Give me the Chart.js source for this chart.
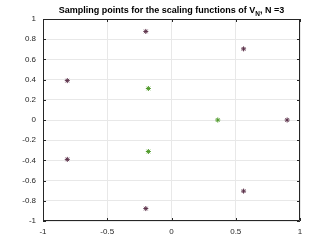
<!DOCTYPE html>
<html>
<head>
<meta charset="utf-8">
<script src="https://cdn.jsdelivr.net/npm/chart.js@4.4.1/dist/chart.umd.min.js"></script>
<style>
  html, body { margin: 0; padding: 0; background: #fff; }
  #wrap { width: 332px; height: 249px; }
</style>
</head>
<body>
<div id="wrap"><canvas id="chart" width="332" height="249"></canvas></div>
<script>
// sampling points
const outerX = [0.9, 0.561, -0.2, -0.811, -0.811, -0.2, 0.561];
const outerY = [0, 0.704, 0.877, 0.39, -0.39, -0.877, -0.704];
const innerX = [0.36, -0.18, -0.18];
const innerY = [0, 0.312, -0.312];

const xTicks = [-1, -0.5, 0, 0.5, 1];
const yTicks = [-1, -0.8, -0.6, -0.4, -0.2, 0, 0.2, 0.4, 0.6, 0.8, 1];

const titleMain = 'Sampling points for the scaling functions of V';
const titleSub = 'N';
const titleEnd = ', N =3';

const axisColor = '#262626';
const fontFamily = 'Liberation Sans, Arial, sans-serif';

function toPoints(xs, ys) {
  return xs.map((x, i) => ({ x: x, y: ys[i] }));
}

// MATLAB-like box with inward ticks and the title with a subscript
const boxPlugin = {
  id: 'box',
  afterDraw(chart) {
    const { ctx, chartArea: a, scales } = chart;
    ctx.save();
    ctx.strokeStyle = axisColor;
    ctx.lineWidth = 1;
    ctx.beginPath();
    ctx.rect(a.left + 0.5, a.top + 0.5, a.right - a.left - 1, a.bottom - a.top - 1);
    for (const v of xTicks) {
      const px = Math.round(scales.x.getPixelForValue(v)) + 0.5;
      ctx.moveTo(px, a.bottom); ctx.lineTo(px, a.bottom - 3);
      ctx.moveTo(px, a.top); ctx.lineTo(px, a.top + 3);
    }
    for (const v of yTicks) {
      const py = Math.round(scales.y.getPixelForValue(v)) + 0.5;
      ctx.moveTo(a.left, py); ctx.lineTo(a.left + 3, py);
      ctx.moveTo(a.right, py); ctx.lineTo(a.right - 3, py);
    }
    ctx.stroke();

    // title
    ctx.fillStyle = '#000';
    ctx.textBaseline = 'alphabetic';
    const big = 'bold 9px ' + fontFamily;
    const small = 'bold 6.5px ' + fontFamily;
    ctx.font = big;
    const w1 = ctx.measureText(titleMain).width;
    const w3 = ctx.measureText(titleEnd).width;
    ctx.font = small;
    const w2 = ctx.measureText(titleSub).width;
    const total = w1 + w2 + w3;
    let x = (a.left + a.right) / 2 - total / 2;
    const base = 13;
    ctx.textAlign = 'left';
    ctx.font = big;
    ctx.fillText(titleMain, x, base);
    x += w1;
    ctx.font = small;
    ctx.fillText(titleSub, x, base + 2.5);
    x += w2;
    ctx.font = big;
    ctx.fillText(titleEnd, x, base);
    ctx.restore();
  }
};

new Chart(document.getElementById('chart'), {
  type: 'scatter',
  data: {
    datasets: [
      {
        label: 'outer',
        data: toPoints(outerX, outerY),
        pointStyle: 'star',
        pointRadius: 2.5,
        borderWidth: 1,
        borderColor: '#5a2f48',
        backgroundColor: '#5a2f48'
      },
      {
        label: 'inner',
        data: toPoints(innerX, innerY),
        pointStyle: 'star',
        pointRadius: 2.5,
        borderWidth: 1,
        borderColor: '#4f9a2a',
        backgroundColor: '#4f9a2a'
      }
    ]
  },
  options: {
    responsive: false,
    animation: false,
    events: [],
    layout: { padding: { top: 19, right: 32, left: 0, bottom: 0 } },
    plugins: {
      legend: { display: false },
      tooltip: { enabled: false },
      title: { display: false }
    },
    scales: {
      x: {
        type: 'linear',
        min: -1,
        max: 1,
        afterFit(scale) { scale.height = 28; },
        afterBuildTicks(scale) { scale.ticks = xTicks.map(v => ({ value: v })); },
        grid: { color: '#e8e8e8', drawTicks: false },
        border: { display: false },
        ticks: {
          autoSkip: false,
          maxRotation: 0,
          padding: 6,
          color: axisColor,
          font: { family: fontFamily, size: 8 },
          callback: (v) => String(v)
        }
      },
      y: {
        type: 'linear',
        min: -1,
        max: 1,
        afterFit(scale) { scale.width = 43; },
        afterBuildTicks(scale) { scale.ticks = yTicks.map(v => ({ value: v })); },
        grid: { color: '#e8e8e8', drawTicks: false },
        border: { display: false },
        ticks: {
          autoSkip: false,
          padding: 7,
          color: axisColor,
          font: { family: fontFamily, size: 8 },
          callback: (v) => String(Math.round(v * 10) / 10)
        }
      }
    }
  },
  plugins: [boxPlugin]
});
</script>
</body>
</html>
